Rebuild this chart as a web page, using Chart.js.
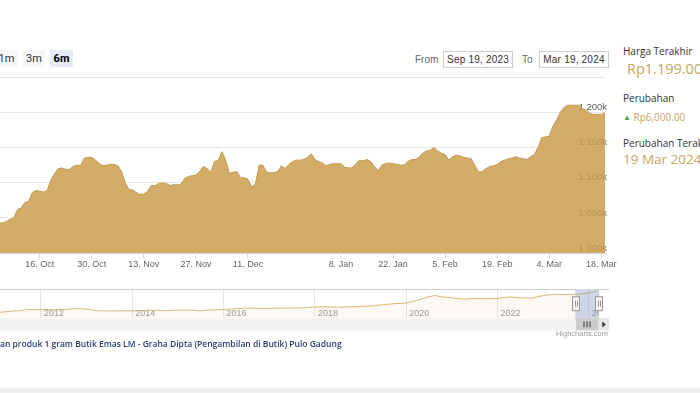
<!DOCTYPE html>
<html>
<head>
<meta charset="utf-8">
<script src="https://cdn.jsdelivr.net/npm/chart.js@4.4.1/dist/chart.umd.min.js"></script>
<style>
body{margin:0;width:700px;height:393px;overflow:hidden;background:#fff;position:relative;font-family:"Open Sans",sans-serif;}
.abs{position:absolute;white-space:nowrap;}
.btn{top:50px;height:17px;width:23px;background:#f7f7f7;color:#333;font:11px Roboto,sans-serif;text-align:center;line-height:17px;}
.btn.on{background:#e6ebf5;color:#000;font-weight:bold;}
.lbl{top:51px;font:10px "Liberation Sans",sans-serif;color:#666;line-height:17px;}
.box{top:51px;height:17px;width:70px;box-sizing:border-box;border:1px solid #ccc;font:10px "Liberation Sans",sans-serif;color:#333;text-align:center;line-height:15px;letter-spacing:0.2px;}
.side{left:623px;font-size:10px;color:#333;}
.gold{color:#c9a55e;}
</style>
</head>
<body>
<div class="abs btn" style="left:-5px">1m</div>
<div class="abs btn" style="left:23px;width:22px">3m</div>
<div class="abs btn on" style="left:50px">6m</div>

<div class="abs lbl" style="left:415px">From</div>
<div class="abs box" style="left:443px">Sep 19, 2023</div>
<div class="abs lbl" style="left:522px">To</div>
<div class="abs box" style="left:539px">Mar 19, 2024</div>

<div class="abs side" style="top:44px">Harga Terakhir</div>
<div class="abs side gold" style="left:627px;top:59px;font-size:14.5px">Rp1.199.000</div>
<div class="abs side" style="top:91px">Perubahan</div>
<div class="abs side gold" style="top:110px"><span style="color:#4caf50;font-size:8px;vertical-align:1px">&#9650;</span> Rp6,000.00</div>
<div class="abs side" style="top:136px">Perubahan Terakhir</div>
<div class="abs side gold" style="top:150px;font-size:13.5px">19 Mar 2024</div>

<canvas id="main" class="abs" style="left:0;top:0" width="620" height="271"></canvas>
<canvas id="nav" class="abs" style="left:0;top:280px" width="609" height="52"></canvas>

<div class="abs" style="left:540px;top:329px;width:68px;text-align:right;font:7.5px 'Liberation Sans',sans-serif;color:#999">Highcharts.com</div>
<div class="abs" style="left:0;top:338px;font:600 8.5px 'Open Sans',sans-serif;color:#2d3c6b">an produk 1 gram Butik Emas LM - Graha Dipta (Pengambilan di Butik) Pulo Gadung</div>
<div class="abs" style="left:0;top:388px;width:700px;height:5px;background:#f0f0f0"></div>

<script>
// harga emas harian (ribu rupiah), 5 Okt 2023 - 19 Mar 2024
const tanggalAwal = '2023-10-05';
const tanggalAkhir = '2024-03-19';
const hariLibur = ['2023-12-25', '2023-12-26', '2024-01-01'];
const hargaRibu = [
  1043, 1043, 1045, 1048, 1050, 1062, 1064, 1072, 1073, 1086,
  1089, 1088, 1087, 1089, 1104, 1113, 1120, 1121, 1119, 1119,
  1123, 1125, 1124, 1135, 1136, 1136, 1132, 1127, 1124, 1125,
  1126, 1126, 1124, 1116, 1100, 1090, 1090, 1086, 1083, 1084,
  1088, 1096, 1096, 1099, 1100, 1099, 1096, 1097, 1097, 1098,
  1106, 1109, 1110, 1111, 1116, 1123, 1120, 1115, 1130, 1132,
  1144, 1132, 1113, 1115, 1116, 1107, 1107, 1105, 1094, 1098,
  1125, 1125, 1115, 1114, 1114, 1116, 1124, 1120, 1126, 1130,
  1132, 1132, 1133, 1136, 1141, 1133, 1130, 1128, 1124, 1126,
  1127, 1127, 1127, 1122, 1121, 1121, 1127, 1132, 1131, 1133,
  1130, 1123, 1117, 1125, 1127, 1128, 1127, 1126, 1125, 1125,
  1130, 1133, 1133, 1136, 1142, 1145, 1146, 1150, 1145, 1142,
  1140, 1132, 1137, 1139, 1138, 1136, 1135, 1134, 1125, 1115,
  1116, 1120, 1123, 1124, 1126, 1130, 1132, 1134, 1135, 1137,
  1135, 1134, 1133, 1137, 1140, 1150, 1164, 1165, 1166, 1180,
  1189, 1200, 1207, 1210, 1210, 1210, 1210, 1205, 1203, 1198,
  1197, 1197, 1197, 1199
];
const xTickTanggal = ['2023-10-16', '2023-10-30', '2023-11-13', '2023-11-27', '2023-12-11',
  '2024-01-08', '2024-01-22', '2024-02-05', '2024-02-19', '2024-03-04', '2024-03-18'];
const yTicks = [1000, 1050, 1100, 1150, 1200, 1250];

// navigator: harga jangka panjang (ribu rupiah)
const navTahun = [2011, 2011.25, 2011.5, 2011.75, 2012, 2012.25, 2012.5, 2012.75, 2013, 2013.25, 2013.5, 2013.75,
  2014, 2014.25, 2014.5, 2014.75, 2015, 2015.25, 2015.5, 2015.75, 2016, 2016.25, 2016.5, 2016.75,
  2017, 2017.25, 2017.5, 2017.75, 2018, 2018.25, 2018.5, 2018.75, 2019, 2019.25, 2019.5, 2019.75,
  2020, 2020.25, 2020.5, 2020.625, 2020.75, 2021, 2021.25, 2021.5, 2021.75, 2022, 2022.25, 2022.5, 2022.75,
  2023, 2023.25, 2023.5, 2023.75, 2024, 2024.214];
const navHarga = [450, 490, 520, 560, 560, 555, 560, 590, 575, 520, 510, 520,
  515, 530, 535, 520, 540, 540, 520, 550, 560, 590, 610, 600,
  600, 610, 610, 620, 650, 655, 640, 650, 670, 680, 730, 760,
  780, 880, 1000, 1040, 1000, 960, 920, 940, 930, 940, 990, 960, 950,
  1040, 1080, 1070, 1080, 1130, 1199];
const navTicks = [2012, 2014, 2016, 2018, 2020, 2022, 2024];
const rentangAwal = 2023.718, rentangAkhir = 2024.214;

const bulan = ['Jan', 'Feb', 'Mar', 'Apr', 'May', 'Jun', 'Jul', 'Aug', 'Sep', 'Oct', 'Nov', 'Dec'];
const tanggal = [];
for (let t = Date.parse(tanggalAwal); t <= Date.parse(tanggalAkhir); t += 864e5) {
  const s = new Date(t).toISOString().slice(0, 10);
  if (!hariLibur.includes(s)) tanggal.push(s);
}
function fmtTanggal(i) {
  const d = new Date(tanggal[i]);
  return d.getUTCDate() + '. ' + bulan[d.getUTCMonth()];
}
function fmtK(v) {
  return String(v).replace(/\B(?=(\d{3})+(?!\d))/g, ' ') + 'k';
}
const font9 = {family: 'Liberation Sans', size: 9};

new Chart(document.getElementById('main'), {
  type: 'line',
  data: {
    datasets: [{
      data: hargaRibu.map((v, i) => ({x: i, y: v})),
      fill: 'start',
      backgroundColor: 'rgba(203,157,78,0.85)',
      borderColor: '#c49a52',
      borderWidth: 1,
      pointRadius: 0,
      tension: 0
    }]
  },
  options: {
    responsive: false,
    animation: false,
    layout: {autoPadding: false, padding: {top: 77, right: 11}},
    plugins: {legend: {display: false}, tooltip: {enabled: false}},
    scales: {
      x: {
        type: 'linear',
        min: 0.315,
        max: hargaRibu.length - 1,
        afterBuildTicks: ax => { ax.ticks = xTickTanggal.map(s => ({value: tanggal.indexOf(s)})); },
        ticks: {callback: v => fmtTanggal(v), color: '#666', font: font9, padding: 1, maxRotation: 0, autoSkip: false},
        grid: {drawOnChartArea: false, drawTicks: true, tickLength: 5, color: '#ccd6eb'},
        border: {display: true, color: '#ccd6eb'}
      },
      y: {
        position: 'right',
        min: 1000,
        max: 1250,
        afterBuildTicks: ax => { ax.ticks = yTicks.map(v => ({value: v})); },
        ticks: {mirror: true, padding: 2, labelOffset: -5, color: '#606060', font: {family: 'Liberation Sans', size: 9.5},
          callback: v => v === 1250 ? '' : fmtK(v)},
        grid: {color: '#e6e6e6', drawTicks: false},
        border: {display: false}
      }
    }
  }
});

const navOverlay = {
  id: 'navOverlay',
  beforeDraw(chart) {
    const {ctx, chartArea: a} = chart;
    ctx.save();
    ctx.beginPath();
    ctx.rect(0, 0, a.right, chart.height);
    ctx.clip();
  },
  afterDraw(chart) {
    const {ctx, chartArea: a, scales: {x}} = chart;
    ctx.restore();
    const x1 = x.getPixelForValue(rentangAwal), x2 = x.getPixelForValue(rentangAkhir);
    const sb = 12;
    ctx.save();
    ctx.fillStyle = 'rgba(102,133,194,0.3)';
    ctx.fillRect(x1, a.top, x2 - x1, a.bottom - a.top);
    // scrollbar
    ctx.fillStyle = '#f2f2f2';
    ctx.fillRect(0, a.bottom, a.right, sb);
    ctx.fillStyle = '#cccccc';
    ctx.fillRect(x1, a.bottom, x2 - x1, sb);
    ctx.fillStyle = '#e6e6e6';
    ctx.fillRect(a.right, a.bottom, chart.width - a.right, sb);
    ctx.fillStyle = '#333';
    ctx.beginPath();
    const bx = (a.right + chart.width) / 2, by = a.bottom + sb / 2;
    ctx.moveTo(bx - 1.5, by - 3); ctx.lineTo(bx + 2, by); ctx.lineTo(bx - 1.5, by + 3); ctx.fill();
    const gx = Math.round((x1 + x2) / 2);
    for (let k = -1; k <= 1; k++) ctx.fillRect(gx + k * 3 - 0.5, by - 3, 1, 6);
    // outline
    ctx.strokeStyle = '#cccccc';
    ctx.lineWidth = 1;
    ctx.beginPath();
    ctx.moveTo(0, a.top + 0.5);
    ctx.lineTo(x1, a.top + 0.5);
    ctx.lineTo(x1, a.bottom + 0.5);
    ctx.lineTo(x2, a.bottom + 0.5);
    ctx.lineTo(x2, a.top + 0.5);
    ctx.lineTo(chart.width, a.top + 0.5);
    ctx.stroke();
    // handles
    const hy = (a.top + a.bottom) / 2;
    [x1, x2].forEach(hx => {
      hx = Math.round(hx);
      ctx.fillStyle = '#f2f2f2';
      ctx.strokeStyle = '#999';
      ctx.fillRect(hx - 3.5, hy - 7, 7, 14);
      ctx.strokeRect(hx - 3.5, hy - 7, 7, 14);
      ctx.beginPath();
      ctx.moveTo(hx - 1 + 0.5, hy - 3); ctx.lineTo(hx - 1 + 0.5, hy + 3);
      ctx.moveTo(hx + 1 + 0.5, hy - 3); ctx.lineTo(hx + 1 + 0.5, hy + 3);
      ctx.stroke();
    });
    ctx.restore();
  }
};

new Chart(document.getElementById('nav'), {
  type: 'line',
  data: {
    datasets: [{
      data: navTahun.map((t, i) => ({x: t, y: navHarga[i]})),
      fill: 'start',
      backgroundColor: 'rgba(212,170,99,0.08)',
      borderColor: 'rgba(210,172,100,0.85)',
      borderWidth: 1,
      pointRadius: 0,
      tension: 0
    }]
  },
  options: {
    responsive: false,
    animation: false,
    layout: {autoPadding: false, padding: {top: 9, bottom: 13.6, right: 10.4}},
    plugins: {legend: {display: false}, tooltip: {enabled: false}},
    scales: {
      x: {
        type: 'linear',
        min: 2011.102,
        max: 2024.214,
        afterBuildTicks: ax => { ax.ticks = navTicks.map(v => ({value: v})); },
        ticks: {align: 'start', labelOffset: 3, padding: -10.4, color: '#999', font: font9, maxRotation: 0,
          autoSkip: false, callback: v => String(v)},
        grid: {color: '#e6e6e6', drawTicks: false},
        border: {display: false}
      },
      y: {display: false, min: 258, max: 1262}
    }
  },
  plugins: [navOverlay]
});
</script>
</body>
</html>
